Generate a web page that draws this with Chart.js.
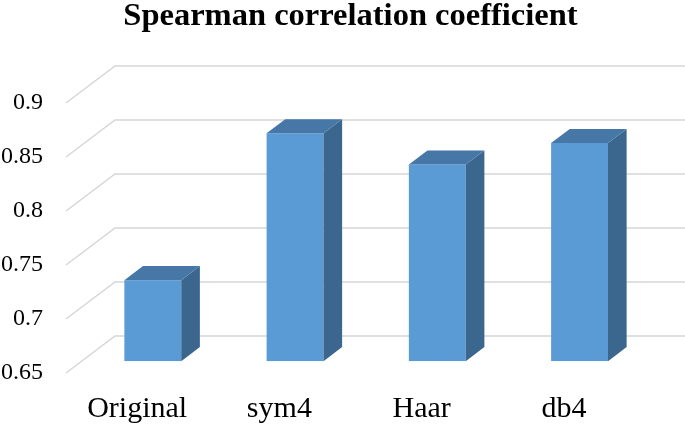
<!DOCTYPE html>
<html>
<head>
<meta charset="utf-8">
<script src="https://cdn.jsdelivr.net/npm/chart.js@4/dist/chart.umd.min.js"></script>
<style>
	html, body { margin: 0; padding: 0; background: #fff; }
	#wrap { width: 685px; height: 425px; }
</style>
</head>
<body>
<div id="wrap"><canvas id="bar-chart"></canvas></div>
<script>
'use strict'

//categories
const categories = ['Original', 'sym4', 'Haar', 'db4'];
//spearman values
const spearmanValues = [0.725, 0.861, 0.832, 0.852];
//y tick labels
const yTickValues = [0.65, 0.7, 0.75, 0.8, 0.85, 0.9];
const yTickLabels = ['0.65', '0.7', '0.75', '0.8', '0.85', '0.9'];

//3d look
const floorDx = 49;
const floorDy = -37;
const barFront = 0.32;
const barBack = 0.70;
const gridColor = '#d6d6d6';
const frontColor = '#5b9bd5';
const topColor = '#4677a6';
const sideColor = '#3b668e';
const serif = "'Liberation Serif', 'Times New Roman', serif";

// =====================================================================================================

//gridlines on the back wall + 3d faces of the bars
const depthPlugin = {
	id: 'depthPlugin',
	beforeDatasetsDraw(chart) {
		const ctx = chart.ctx;
		const area = chart.chartArea;
		const y = chart.scales.y;
		ctx.save();
		ctx.strokeStyle = gridColor;
		ctx.lineWidth = 1.5;
		yTickValues.forEach((v) => {
			const py = y.getPixelForValue(v);
			ctx.beginPath();
			ctx.moveTo(area.left, py);
			ctx.lineTo(area.left + floorDx, py + floorDy);
			ctx.lineTo(chart.width, py + floorDy);
			ctx.stroke();
		});
		ctx.restore();

		//front faces are pushed a bit into the floor
		ctx.save();
		ctx.translate(floorDx * barFront, floorDy * barFront);
	},
	afterDatasetsDraw(chart) {
		const ctx = chart.ctx;
		ctx.restore();

		const fx = floorDx * barFront;
		const fy = floorDy * barFront;
		const dx = floorDx * (barBack - barFront);
		const dy = floorDy * (barBack - barFront);
		const bottom = chart.scales.y.getPixelForValue(yTickValues[0]);

		chart.getDatasetMeta(0).data.forEach((bar) => {
			const p = bar.getProps(['x', 'y', 'width'], true);
			const x0 = p.x - p.width / 2 + fx;
			const x1 = p.x + p.width / 2 + fx;
			const yt = p.y + fy;
			const yb = bottom + fy;

			//side
			ctx.fillStyle = sideColor;
			ctx.beginPath();
			ctx.moveTo(x1, yt);
			ctx.lineTo(x1 + dx, yt + dy);
			ctx.lineTo(x1 + dx, yb + dy);
			ctx.lineTo(x1, yb);
			ctx.closePath();
			ctx.fill();

			//top
			ctx.fillStyle = topColor;
			ctx.beginPath();
			ctx.moveTo(x0, yt);
			ctx.lineTo(x1, yt);
			ctx.lineTo(x1 + dx, yt + dy);
			ctx.lineTo(x0 + dx, yt + dy);
			ctx.closePath();
			ctx.fill();
		});
	}
};

new Chart(document.getElementById('bar-chart'), {
	type: 'bar',
	data: {
		labels: categories,
		datasets: [{
			data: spearmanValues,
			base: yTickValues[0],
			backgroundColor: frontColor,
			borderWidth: 0,
			barPercentage: 0.4,
			categoryPercentage: 1
		}]
	},
	options: {
		responsive: true,
		maintainAspectRatio: false,
		animation: false,
		layout: {
			padding: { left: 0, right: 50, top: 0, bottom: 0 }
		},
		plugins: {
			legend: { display: false },
			tooltip: { enabled: false },
			title: {
				display: true,
				fullSize: false,
				text: 'Spearman correlation coefficient',
				color: '#000',
				font: { family: serif, size: 32.5, weight: 'bold', lineHeight: 0.85 },
				padding: { top: 3, bottom: 72.4 }
			}
		},
		scales: {
			x: {
				grid: { display: false, drawTicks: false },
				border: { display: false },
				ticks: {
					color: '#000',
					padding: 18,
					font: { family: serif, size: 30 }
				},
				afterFit: (scale) => { scale.height = 52; }
			},
			y: {
				min: 0.65,
				max: 0.9,
				grid: { display: false, drawTicks: false },
				border: { display: false },
				afterBuildTicks: (scale) => {
					scale.ticks = yTickValues.map((v) => ({ value: v }));
				},
				ticks: {
					color: '#000',
					padding: 23,
					font: { family: serif, size: 24 },
					callback: (value, index) => yTickLabels[index]
				},
				afterFit: (scale) => { scale.width = 66; }
			}
		}
	},
	plugins: [depthPlugin]
});
</script>
</body>
</html>
